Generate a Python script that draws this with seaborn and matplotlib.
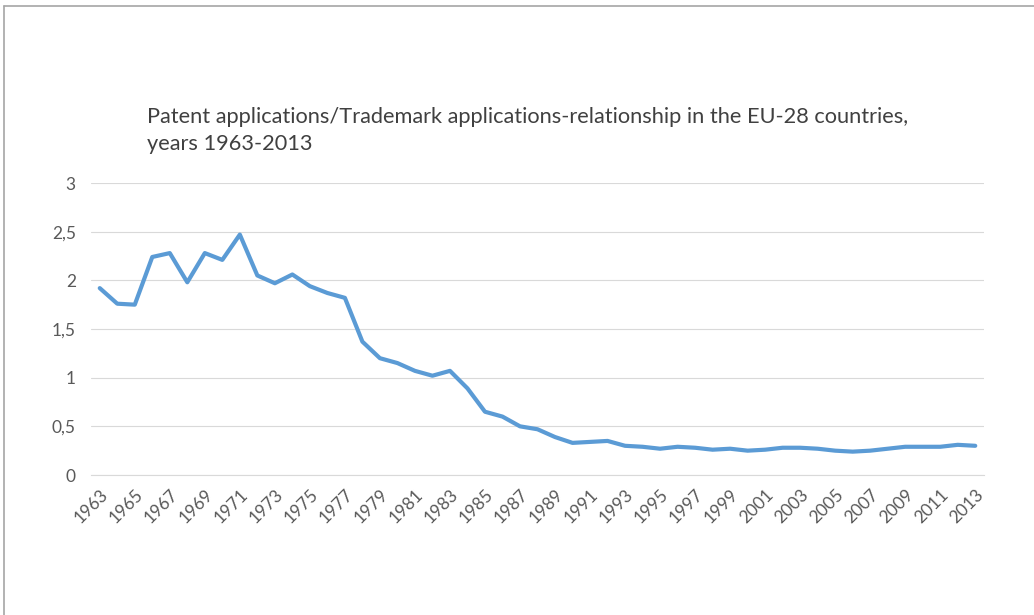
import matplotlib
matplotlib.use("Agg")
import matplotlib.pyplot as plt
import matplotlib.ticker as mticker
from matplotlib.lines import Line2D
import seaborn as sns
import pandas as pd

# Patent / trademark applications ratio, EU-28
years = list(range(1963, 2014))
ratio = [1.92, 1.76, 1.75, 2.24, 2.28, 1.98, 2.28, 2.21, 2.47, 2.05,
         1.97, 2.06, 1.94, 1.87, 1.82, 1.37, 1.20, 1.15, 1.07, 1.02,
         1.07, 0.89, 0.65, 0.60, 0.50, 0.47, 0.39, 0.33, 0.34, 0.35,
         0.30, 0.29, 0.27, 0.29, 0.28, 0.26, 0.27, 0.25, 0.26, 0.28,
         0.28, 0.27, 0.25, 0.24, 0.25, 0.27, 0.29, 0.29, 0.29, 0.31,
         0.30]
df = pd.DataFrame({"year": years, "ratio": ratio})

sns.set_style("white")
plt.rcParams["font.family"] = ["Lato", "DejaVu Sans"]

fig = plt.figure(figsize=(10.34, 6.15), dpi=100)
ax = fig.add_axes([91 / 1034, 1 - 475 / 615, 893 / 1034, (475 - 183) / 615])

sns.lineplot(data=df, x="year", y="ratio", ax=ax, color="#5B9BD5", linewidth=3)

ax.set_xlim(1962.5, 2013.5)
ax.set_ylim(0, 3)
ax.set_xticks(years[::2])
ax.set_xticklabels([str(y) for y in years[::2]], rotation=45, ha="right",
                   rotation_mode="anchor", fontsize=12.5, color="#595959")
ax.yaxis.set_major_locator(mticker.MultipleLocator(0.5))
ax.yaxis.set_major_formatter(mticker.FuncFormatter(
    lambda v, p: ("%g" % v).replace(".", ",")))
ax.tick_params(axis="y", length=0, pad=11, labelsize=12.5, labelcolor="#595959")
ax.tick_params(axis="x", length=0, pad=8)
ax.grid(axis="y", color="#D9D9D9", linewidth=0.8)
ax.set_xlabel("")
ax.set_ylabel("")
for s in ["top", "right", "left"]:
    ax.spines[s].set_visible(False)
ax.spines["bottom"].set_color("#D9D9D9")
ax.spines["bottom"].set_linewidth(0.8)

fig.text(147 / 1034, 1 - 107 / 615,
         "Patent applications/Trademark applications-relationship in the EU-28 countries,\nyears 1963-2013",
         fontsize=15.7, color="#404040", ha="left", va="top", linespacing=1.45)

# chart frame (top and left edges)
fig.add_artist(Line2D([4 / 1034, 1], [1 - 6 / 615, 1 - 6 / 615], color="#A6A6A6", linewidth=1.2))
fig.add_artist(Line2D([4 / 1034, 4 / 1034], [0, 1 - 6 / 615], color="#A6A6A6", linewidth=1.2))

fig.savefig("out.png", dpi=100)
